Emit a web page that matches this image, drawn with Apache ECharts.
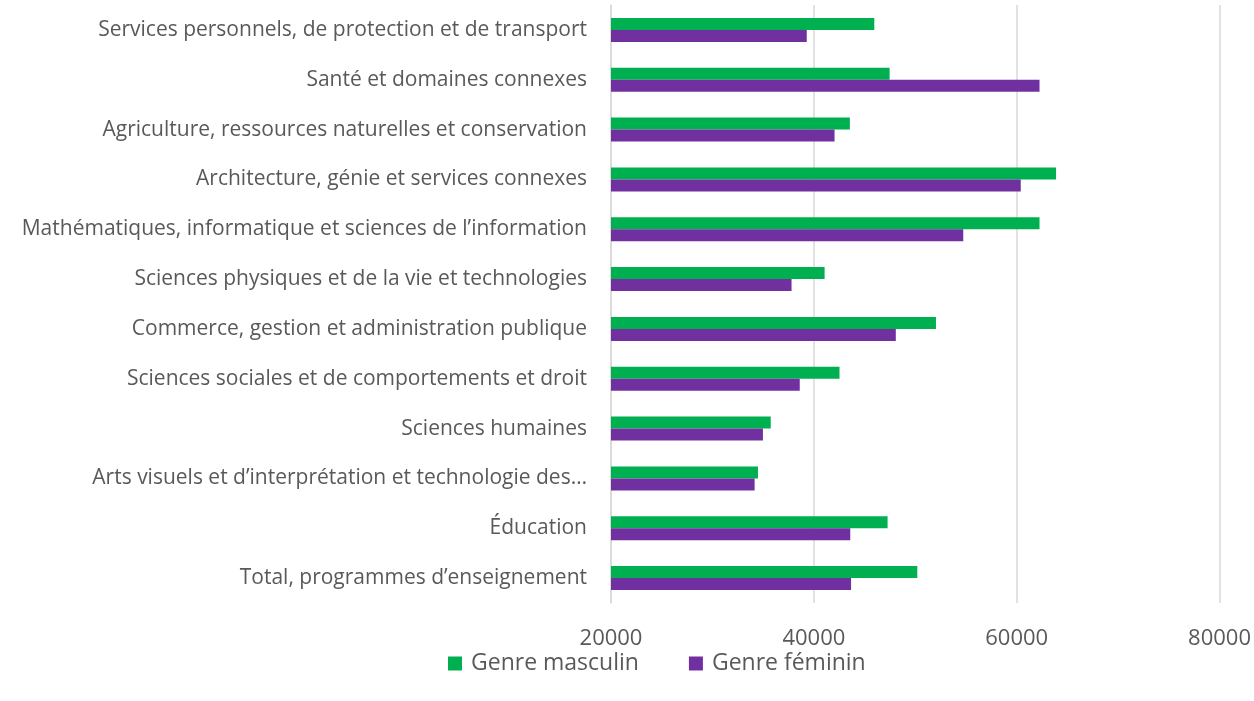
<!DOCTYPE html>
<html>
<head>
<meta charset="utf-8">
<script src="https://cdn.jsdelivr.net/npm/echarts@6/dist/echarts.min.js"></script>
<style>
html, body { margin: 0; padding: 0; background: #fff; }
#chart { width: 1254px; height: 701px; }
</style>
</head>
<body>
<div id="chart"></div>
<script>
// catégories, du bas vers le haut
const categories = [
    'Total, programmes d’enseignement',
    'Éducation',
    'Arts visuels et d’interprétation et technologie des…',
    'Sciences humaines',
    'Sciences sociales et de comportements et droit',
    'Commerce, gestion et administration publique',
    'Sciences physiques et de la vie et technologies',
    'Mathématiques, informatique et sciences de l’information',
    'Architecture, génie et services connexes',
    'Agriculture, ressources naturelles et conservation',
    'Santé et domaines connexes',
    'Services personnels, de protection et de transport'
]
const masculin = [50200, 47270, 34490, 35750, 42530, 52040, 41060, 62250, 63880, 43550, 47470, 45960]
const feminin = [43670, 43590, 34160, 34980, 38610, 48080, 37800, 54730, 60400, 42040, 62250, 39300]
const xTicks = [20000, 40000, 60000, 80000]

const FONT = 'Open Sans'
const TEXT_COLOR = '#595959'
const GRID_COLOR = '#d9d9d9'

const chart = echarts.init(document.getElementById('chart'))

const option = {
    animation: false,
    textStyle: { fontFamily: FONT },
    legend: {
        data: ['Genre masculin', 'Genre féminin'],
        bottom: 21,
        left: 443,
        itemWidth: 14,
        itemHeight: 14,
        itemGap: 50,
        icon: 'rect',
        textStyle: { fontSize: 23, color: TEXT_COLOR, fontFamily: FONT, padding: [0, 0, 0, 4] }
    },
    grid: {
        left: 611,
        right: 33,
        top: 5,
        bottom: 98
    },
    xAxis: {
        type: 'value',
        min: xTicks[0],
        max: xTicks[xTicks.length - 1],
        interval: 20000,
        axisLine: { show: false },
        axisTick: { show: false },
        axisLabel: {
            fontSize: 22,
            color: TEXT_COLOR,
            margin: 25,
            fontFamily: FONT,
            formatter: (v) => String(v)
        },
        splitLine: { show: true, lineStyle: { color: GRID_COLOR, width: 1.5 } }
    },
    yAxis: {
        type: 'category',
        data: categories,
        axisLine: { show: true, lineStyle: { color: GRID_COLOR, width: 1.5 } },
        axisTick: { show: false },
        axisLabel: { fontSize: 21, color: TEXT_COLOR, margin: 24, fontFamily: FONT }
    },
    series: [
        {
            name: 'Genre masculin',
            type: 'bar',
            data: masculin,
            color: '#00b050',
            barWidth: 12,
            barGap: '0%'
        },
        {
            name: 'Genre féminin',
            type: 'bar',
            data: feminin,
            color: '#7030a0',
            barWidth: 12,
            barGap: '0%'
        }
    ]
}

chart.setOption(option)
</script>
</body>
</html>
